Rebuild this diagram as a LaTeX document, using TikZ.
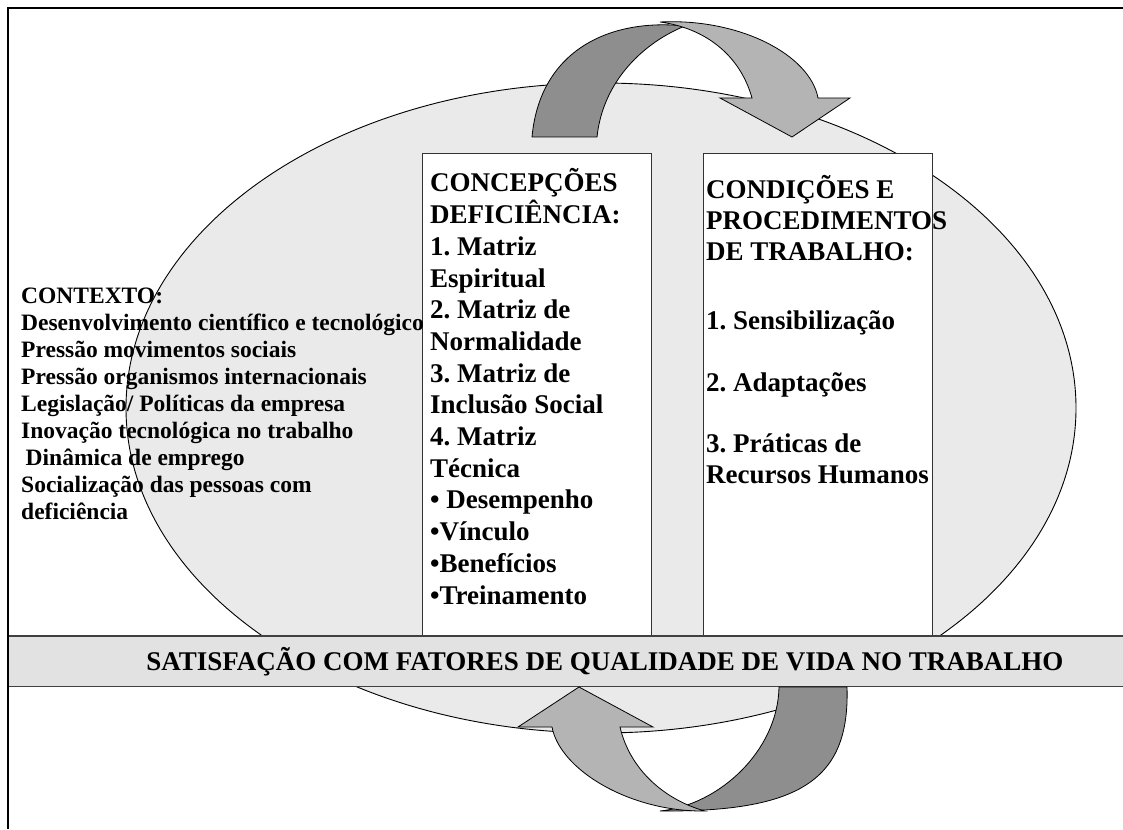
\documentclass[tikz,border=0pt]{standalone}
\usepackage{fontspec}
\setmainfont{Liberation Serif}
\usepackage{tikz}
\usetikzlibrary{shapes.geometric}
\frenchspacing
\definecolor{ovalgray}{HTML}{EAEAEA}
\definecolor{granite}{HTML}{E2E2E2}
\definecolor{backgray}{HTML}{8E8E8E}
\definecolor{frontgray}{HTML}{B4B4B4}
\tikzset{
	basics/.style={inner sep=0pt, text=black},
	panel/.style={rectangle, basics, draw=black!80, fill=white, line width=1pt, minimum width=229pt, minimum height=487pt, anchor=north west},
	oval/.style={ellipse, basics, draw=black, fill=ovalgray, line width=0.9pt, minimum width=950pt, minimum height=650pt},
	band/.style={rectangle, basics, fill=granite, minimum width=1114pt, minimum height=50pt, anchor=north west},
	bandline/.style={draw=black!75, line width=1.5pt},
	bigtext/.style={basics, align=left, anchor=base west, font={\fontsize{27}{31.7}\selectfont\bfseries\frenchspacing}},
	smalltext/.style={basics, align=left, anchor=base west, font={\fontsize{23.5}{26.9}\selectfont\bfseries\frenchspacing}},
	backarc/.style={fill=backgray, draw=black, line width=0.8pt},
	frontarc/.style={fill=frontgray, draw=black, line width=0.8pt},
}

\begin{document}
\begin{tikzpicture}[x=1pt, y=-1pt]
\useasboundingbox (0,0) rectangle (1123,829);
% frame
\draw [line width=1.2pt] (1123,8) -- (8,8) -- (8,829);
\node (ring) [oval] at (601,408) {};
% curved arrow on top
\draw [backarc] (532,137) -- (597,137) .. controls (603,80) and (645,42) .. (685,26)
	.. controls (610,18) and (540,50) .. (532,137) -- cycle;
\draw [frontarc] (660,22) .. controls (740,18) and (810,55) .. (818,98) -- (850,98) -- (792,137)
	-- (720,98) -- (752,98) .. controls (740,55) and (705,28) .. (660,22) -- cycle;
\node (conc) [panel] at (422,153) {};
\node (cond) [panel] at (703,153) {};
\node (band) [band] at (9,636) {};
\draw [bandline] (band.north west) -- (band.north east);
\draw [bandline] (band.south west) -- (band.south east);
% curved arrow below
\draw [backarc] (779,687) -- (847,687) .. controls (850,780) and (800,812) .. (660,811)
	.. controls (720,805) and (778,750) .. (779,687) -- cycle;
\draw [frontarc] (518,727) -- (579,687) -- (653,727) -- (620,727) .. controls (630,770) and (665,800) .. (705,811)
	.. controls (630,812) and (560,770) .. (552,727) -- cycle;
% texts (anchored at the baseline of their last line)
\node (context) [smalltext] at (21,519) {CONTEXTO:\\
	Desenvolvimento científico e tecnológico\\
	Pressão movimentos sociais\\
	Pressão organismos internacionais\\
	Legislação/ Políticas da empresa\\
	Inovação tecnológica no trabalho\\
	\hspace*{4.5pt}Dinâmica de emprego\\
	Socialização das pessoas com\\
	deficiência};
\node (conctext) [bigtext] at (430,604) {CONCEPÇÕES\\
	DEFICIÊNCIA:\\
	1. Matriz\\
	Espiritual\\
	2. Matriz de\\
	Normalidade\\
	3. Matriz de\\
	Inclusão Social\\
	4. Matriz\\
	Técnica\\
	• Desempenho\\
	•Vínculo\\
	•Benefícios\\
	•Treinamento};
\node (condtext) [bigtext, font={\fontsize{27}{31}\selectfont\bfseries\frenchspacing}] at (706,483) {CONDIÇÕES E\\
	PROCEDIMENTOS\\
	DE TRABALHO:\\[38pt]
	1. Sensibilização\\[31pt]
	2. Adaptações\\[30pt]
	3. Práticas de\\
	Recursos Humanos};
\node (bandtext) [basics, font={\fontsize{27}{31}\selectfont\bfseries}] at (605,662) {SATISFAÇÃO COM FATORES DE QUALIDADE DE VIDA NO TRABALHO};
\end{tikzpicture}
\end{document}
